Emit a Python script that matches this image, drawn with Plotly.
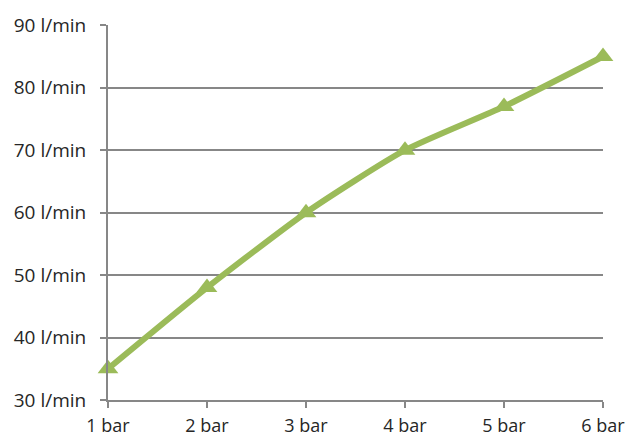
import plotly.graph_objects as go

categories = ["1 bar", "2 bar", "3 bar", "4 bar", "5 bar", "6 bar"]
flow = [35, 48, 60, 70, 77, 85]
y_ticks = [30, 40, 50, 60, 70, 80, 90]
y_tick_labels = [f"{v} l/min" for v in y_ticks]

green = "#9BBB59"
grid = "#878787"

fig = go.Figure()
fig.add_trace(go.Scatter(
    x=categories, y=flow, mode="lines+markers",
    line=dict(color=green, width=6, shape="spline", smoothing=0.6),
    marker=dict(symbol="triangle-up", size=18, color=green),
    cliponaxis=False, showlegend=False,
))

fig.update_layout(
    width=627, height=439,
    margin=dict(l=108, r=24, t=25, b=39, autoexpand=False),
    paper_bgcolor="white", plot_bgcolor="white",
    font=dict(family="Open Sans, sans-serif", size=19, color="#262626"),
    xaxis=dict(type="category", range=[0, 5], showgrid=False, automargin=False,
               showline=True, linecolor=grid, linewidth=2,
               ticks="outside", ticklen=6, tickcolor=grid, tickwidth=2,
               zeroline=False, ticklabelstandoff=2,
               tickfont=dict(size=18)),
    yaxis=dict(range=[30, 90.05], tickvals=y_ticks, ticktext=y_tick_labels,
               automargin=False,
               showgrid=True, gridcolor=grid, gridwidth=2,
               showline=True, linecolor=grid, linewidth=2,
               ticks="outside", ticklen=6, tickcolor=grid, tickwidth=2,
               zeroline=False, ticklabelstandoff=10),
)

fig.write_html("out.html", config={"displayModeBar": False},
               post_script="document.body.style.margin='0';document.body.style.overflow='hidden';")
